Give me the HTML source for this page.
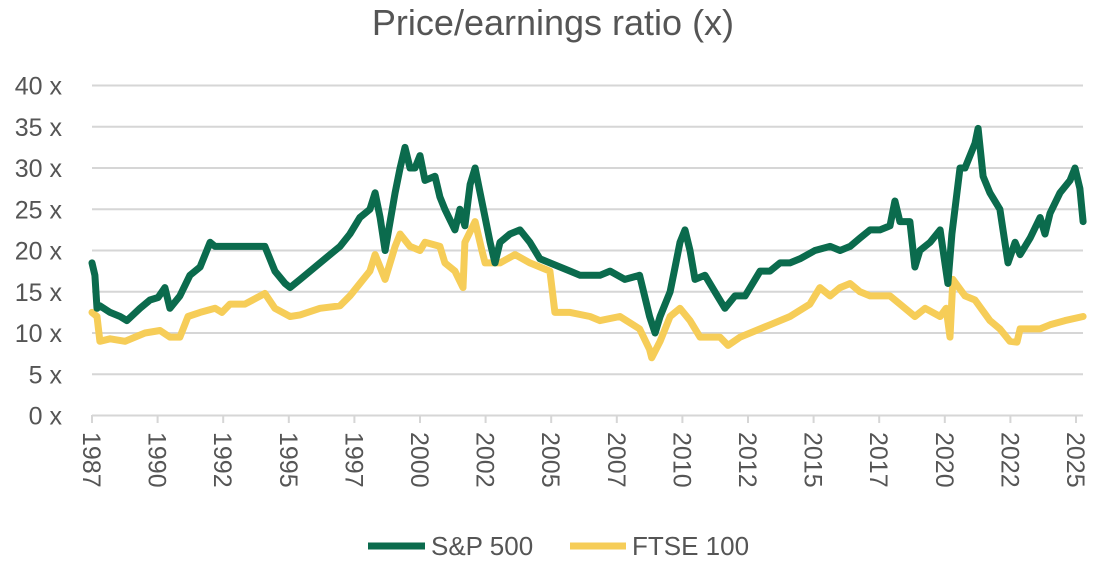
<!DOCTYPE html>
<html><head><meta charset="utf-8"><style>
html,body{margin:0;padding:0;background:#fff}
svg{display:block;font-family:"Liberation Sans",sans-serif}
</style></head><body>
<svg id="chart" width="1095" height="581" viewBox="0 0 1095 581">
<text x="553" y="35" text-anchor="middle" font-size="36" fill="#555">Price/earnings ratio (x)</text>
<g id="grid"></g>
<g id="yticks"></g>
<g id="xticks"></g>
<g id="lines"></g>
<g>
<line x1="368" y1="546" x2="425" y2="546" stroke="#0b6b4d" stroke-width="7"/>
<text x="431" y="555" font-size="26" fill="#555">S&amp;P 500</text>
<line x1="570" y1="546" x2="626" y2="546" stroke="#f6cd58" stroke-width="7"/>
<text x="632" y="555" font-size="26" fill="#555">FTSE 100</text>
</g>
</svg>
<script>
const yTicks=[0,5,10,15,20,25,30,35,40];
const xTickYears=[1987.5,1990,1992.5,1995,1997.5,2000,2002.5,2005,2007.5,2010,2012.5,2015,2017.5,2020,2022.5,2025];
const xTickLabels=["1987","1990","1992","1995","1997","2000","2002","2005","2007","2010","2012","2015","2017","2020","2022","2025"];
const spYears=[1987.50,1987.61,1987.69,1987.80,1988.19,1988.57,1988.83,1989.33,1989.71,1990.02,1990.28,1990.47,1990.85,1991.23,1991.62,1992.00,1992.19,1992.76,1993.52,1994.09,1994.47,1994.86,1995.05,1995.43,1996.19,1996.95,1997.33,1997.71,1998.09,1998.29,1998.48,1998.67,1999.05,1999.24,1999.43,1999.62,1999.81,2000.00,2000.19,2000.57,2000.76,2000.95,2001.33,2001.52,2001.71,2001.91,2002.10,2002.29,2002.48,2002.67,2002.86,2003.05,2003.43,2003.81,2004.19,2004.57,2004.95,2005.72,2006.10,2006.86,2007.24,2007.81,2008.37,2008.75,2008.96,2009.15,2009.53,2009.72,2009.91,2010.10,2010.29,2010.48,2010.86,2011.24,2011.62,2012.00,2012.39,2012.96,2013.34,2013.72,2014.10,2014.48,2015.05,2015.63,2016.01,2016.39,2016.77,2017.15,2017.53,2017.91,2018.10,2018.29,2018.67,2018.86,2019.05,2019.44,2019.82,2020.12,2020.27,2020.58,2020.77,2021.15,2021.27,2021.46,2021.72,2022.10,2022.41,2022.68,2022.87,2023.25,2023.63,2023.82,2024.01,2024.39,2024.77,2024.96,2025.15,2025.27];
const spValues=[18.5,17,13,13.3,12.5,12,11.5,13,14,14.3,15.5,13,14.5,17,18,21,20.5,20.5,20.5,20.5,17.5,16,15.5,16.5,18.5,20.5,22,24,25,27,24,20,27,30,32.5,30,30,31.5,28.5,29,26.5,25,22.5,25,23,28,30,27,24,21,18.5,21,22,22.5,21,19,18.5,17.5,17,17,17.5,16.5,17,12,10,12,15,18,21,22.5,20,16.5,17,15,13,14.5,14.5,17.5,17.5,18.5,18.5,19,20,20.5,20,20.5,21.5,22.5,22.5,23,26,23.5,23.5,18,20,21,22.5,16,22,30,30,33,34.8,29,27,25,18.5,21,19.5,21.5,24,22,24.5,27,28.5,30,27.5,23.5];
const ftYears=[1987.50,1987.69,1987.80,1988.19,1988.76,1989.14,1989.52,1990.09,1990.47,1990.85,1991.16,1991.62,1992.19,1992.45,1992.76,1993.33,1994.09,1994.47,1995.05,1995.43,1996.19,1996.95,1997.33,1997.71,1998.09,1998.29,1998.67,1999.05,1999.24,1999.62,2000.00,2000.19,2000.76,2000.95,2001.33,2001.64,2001.71,2002.10,2002.36,2002.48,2003.05,2003.62,2004.19,2004.95,2005.14,2005.72,2006.48,2006.86,2007.62,2008.37,2008.75,2008.83,2009.15,2009.53,2009.91,2010.29,2010.67,2011.43,2011.74,2012.20,2012.58,2013.34,2014.10,2014.86,2015.24,2015.63,2016.01,2016.39,2016.77,2017.15,2017.91,2018.29,2018.86,2019.25,2019.82,2020.05,2020.20,2020.31,2020.77,2021.15,2021.72,2022.10,2022.48,2022.75,2022.87,2023.63,2024.01,2024.58,2025.27];
const ftValues=[12.5,12,9,9.3,9,9.5,10,10.3,9.5,9.5,12,12.5,13,12.5,13.5,13.5,14.8,13,12,12.2,13,13.3,14.5,16,17.5,19.5,16.5,20.5,22,20.5,20,21,20.5,18.5,17.5,15.5,21,23.5,20,18.5,18.5,19.5,18.5,17.5,12.5,12.5,12,11.5,12,10.5,8,7,9,12,13,11.5,9.5,9.5,8.5,9.5,10,11,12,13.5,15.5,14.5,15.5,16,15,14.5,14.5,13.5,12,13,12,13,9.5,16.5,14.5,14,11.5,10.5,9,8.9,10.5,10.5,11,11.5,12];

const NS="http://www.w3.org/2000/svg";
const X0=92,PXY=26.24,Y0=415.5,PXV=8.25;
const xs=y=>X0+(y-1987.5)*PXY;
const ys=v=>Y0-v*PXV;
function mk(tag,attrs,parent){const e=document.createElementNS(NS,tag);for(const k in attrs)e.setAttribute(k,attrs[k]);parent.appendChild(e);return e;}
const grid=document.getElementById('grid'),yt=document.getElementById('yticks'),xt=document.getElementById('xticks'),lines=document.getElementById('lines');
yTicks.forEach(v=>{
  const l=mk('line',{x1:92,x2:1083,y1:ys(v),y2:ys(v),stroke:'#d6d6d6','stroke-width':2},grid);
  
  
  const t=mk('text',{x:62,y:ys(v)+9,'text-anchor':'end','font-size':25,fill:'#555'},yt);
  t.textContent=v+' x';
  
  
});
xTickYears.forEach((yr,i)=>{
  const x=xs(yr);
  const tk=mk('line',{x1:x,x2:x,y1:415,y2:423,stroke:'#d6d6d6','stroke-width':2},xt);
  
  
  const t=mk('text',{x:0,y:0,transform:`translate(${x-9},432) rotate(90)`,'font-size':25,fill:'#555'},xt);
  t.textContent=xTickLabels[i];
  
  
});
function path(yrs,vals,color,name){
  const d=yrs.map((y,i)=>(i?'L':'M')+xs(y).toFixed(1)+' '+ys(vals[i]).toFixed(1)).join(' ');
  const p=mk('path',{d:d,fill:'none',stroke:color,'stroke-width':7,'stroke-linejoin':'round','stroke-linecap':'round'},lines);
  
  
}
path(ftYears,ftValues,'#f6cd58','ftse100-line');
path(spYears,spValues,'#0b6b4d','sp500-line');
</script>
</body></html>
